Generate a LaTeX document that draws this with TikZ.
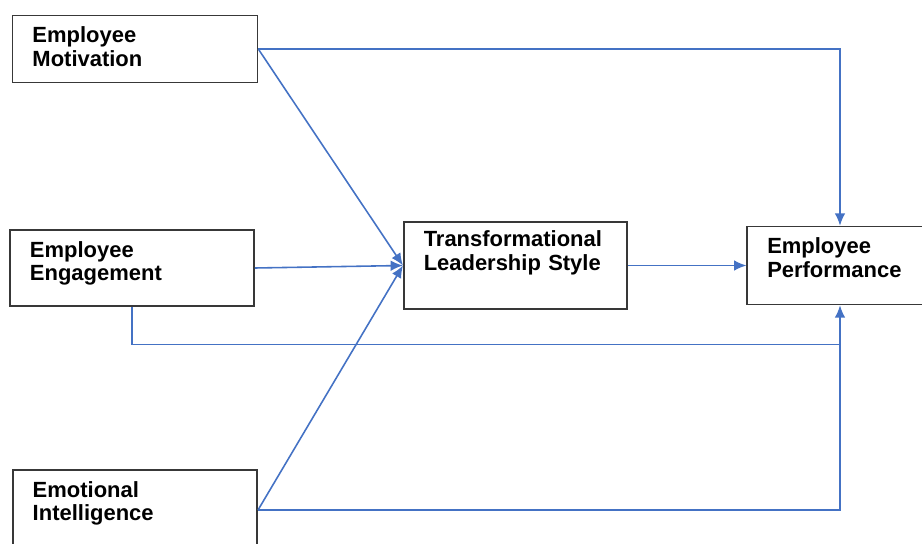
\documentclass[tikz,border=0pt]{standalone}
\usepackage{fontspec}
\setmainfont{Liberation Sans}
\usepackage{tikz}
\usetikzlibrary{shapes.geometric, arrows.meta}
\definecolor{linkblue}{RGB}{68,114,196}
\tikzstyle{factor} = [rectangle, draw=black!78, line width=0.9pt, fill=white, inner xsep=0.4cm, inner ysep=0pt, text height=0.54cm, align=left, font=\bfseries\fontsize{12.5}{13.6}\selectfont]
\tikzstyle{flow} = [draw=linkblue, line width=0.9pt, -{Latex[length=7pt, width=6pt]}]
\tikzstyle{line} = [draw=linkblue, line width=0.9pt]

\begin{document}
\begin{tikzpicture}[node distance=4.38cm]
\useasboundingbox (-2.70,0.98) rectangle (15.74,-9.90);
\node (mot) [factor, text width=4.1cm, text depth=0.80cm] {Employee\\Motivation};
\node (eng) [factor, below of=mot, xshift=-0.06cm, text width=4.08cm, text depth=0.98cm] {Employee\\Engagement};
\node (emo) [factor, below of=eng, xshift=0.06cm, yshift=-0.46cm, text width=4.09cm, text depth=1.06cm] {Emotional\\Intelligence};
\node (tls) [factor, right of=eng, xshift=3.29cm, yshift=0.05cm, text width=3.67cm, text height=0.50cm, text depth=1.25cm] {Transformational\\Leadership Style};
\node (perf) [factor, right of=tls, xshift=2.11cm, text width=2.91cm, text depth=1.02cm] {Employee\\Performance};
\coordinate (join) at ([yshift=-0.78cm]perf.south);

\draw [flow] (mot.east) -| (perf.north);
\draw [flow] (mot.east) -- (tls.west);
\draw [flow] (eng.east) -- (tls.west);
\draw [flow] (emo.east) -- (tls.west);
\draw [flow] (tls.east) -- (perf.west);
\draw [line] (eng.south) |- (join);
\draw [flow] (emo.east) -| (perf.south);
\end{tikzpicture}
\end{document}
